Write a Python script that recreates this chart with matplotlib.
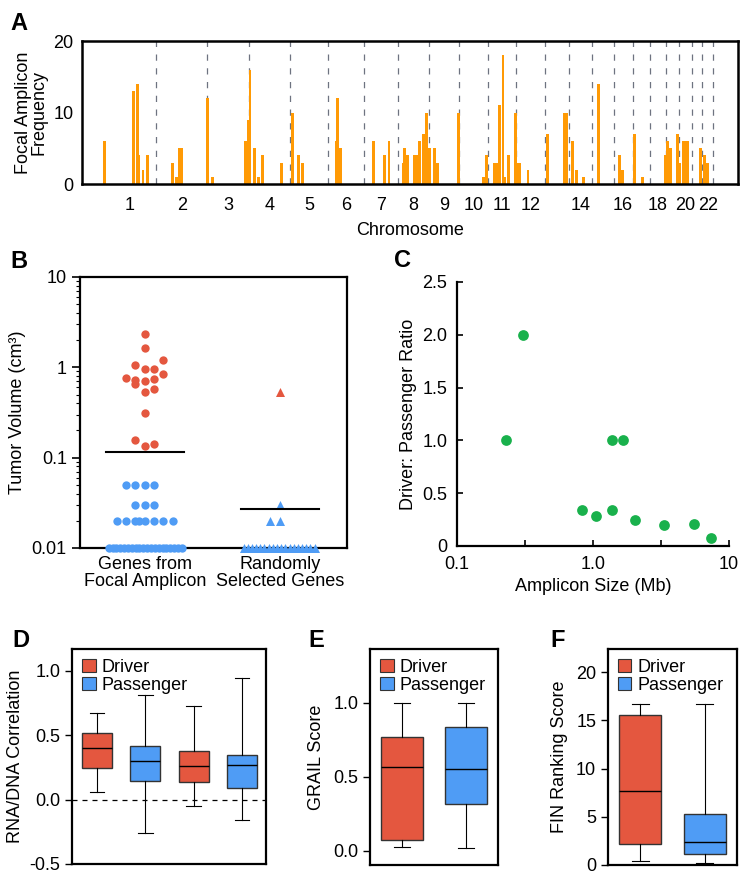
#!/usr/bin/python3

import matplotlib
matplotlib.use("Agg")
import matplotlib.pyplot as plt
from matplotlib.patches import Patch
from matplotlib.ticker import FixedLocator, NullFormatter
import numpy as np

plt.rcParams['font.family'] = ['Liberation Sans', 'DejaVu Sans']
plt.rcParams['font.size'] = 13

ORANGE = "#FF9A05"
RED = "#E4573F"
BLUE = "#4F9CF5"
GREEN = "#19B14C"
EDGE = "#333333"

# ---- panel A: focal amplicon frequency along the genome (hg19, Mb) ----
chrom_len = [249, 243, 198, 191, 181, 171, 159, 146, 141, 136, 135, 134,
             115, 107, 103, 90, 81, 78, 59, 63, 48, 51]
chrom_shown = [1, 2, 3, 4, 5, 6, 7, 8, 9, 10, 11, 12, 14, 16, 18, 20, 22]
amp_pos = [8, 145, 160, 169, 188, 207, 329, 348, 362, 372, 494, 518,
           670, 684, 693, 712, 731, 754, 842, 894, 921, 940, 1099, 1108,
           1118, 1278, 1330, 1349, 1415, 1424, 1438, 1467, 1481, 1495,
           1514, 1528, 1538, 1566, 1580, 1675, 1797, 1807, 1849, 1858,
           1872, 1887, 1896, 1915, 1948, 1958, 1967, 2005, 2095, 2175,
           2189, 2217, 2232, 2265, 2336, 2435, 2449, 2506, 2544, 2652,
           2662, 2676, 2709, 2718, 2737, 2747, 2756, 2817, 2836, 2850]
amp_freq = [6, 13, 14, 4, 2, 4, 3, 1, 5, 5, 12, 1,
            6, 9, 16, 5, 1, 4, 3, 10, 4, 3, 6, 12,
            5, 6, 4, 6, 3, 5, 4, 4, 4, 6,
            7, 10, 5, 5, 3, 10, 1, 4, 3, 3,
            11, 18, 1, 4, 10, 3, 3, 2, 7, 10,
            10, 6, 2, 1, 14, 4, 2, 7, 1, 4,
            6, 5, 7, 3, 6, 6, 6, 5, 4, 3]

# ---- panel B: tumour volume per gene (cm3) ----
b_groups = ["Genes from\nFocal Amplicon", "Randomly\nSelected Genes"]
b_red_vals = [2.34, 1.64, 1.06, 1.2, 0.96, 0.96, 0.77, 0.72, 0.70, 0.75,
              0.84, 0.65, 0.53, 0.58, 0.31, 0.155, 0.134, 0.143]
b_red_slot = [0, 0, -1, 2, 0, 1, -2, -1, 0, 1, 2, -1, 0, 1, 0, -1, 0, 1]
b_blue_vals = [0.05, 0.05, 0.05, 0.05, 0.03, 0.03, 0.03,
               0.02, 0.02, 0.02, 0.02, 0.02, 0.02, 0.02, 0.02]
b_blue_slot = [-2, -1, 0, 1, -1, 0, 1, -3, -2, -1, -0.6, 0, 1, 2, 3]
rnd_red_vals = [0.53]
rnd_blue_vals = [0.03, 0.02, 0.02]
rnd_blue_slot = [0, -1, 0]
floor_value = 0.01
floor_counts = [20, 18]
b_means = [0.115, 0.027]

# ---- panel C: driver/passenger ratio vs amplicon size ----
amp_size = [0.229, 0.305, 1.37, 1.67, 0.835, 1.05, 1.37, 2.03, 3.31, 5.52, 7.43]
dp_ratio = [1.0, 2.0, 1.0, 1.0, 0.336, 0.286, 0.336, 0.248, 0.197, 0.212, 0.075]

# ---- panels D-F: box statistics (whislo, q1, med, q3, whishi) ----
d_stats = [(0.059, 0.243, 0.40, 0.52, 0.67),
           (-0.263, 0.146, 0.30, 0.42, 0.81),
           (-0.046, 0.136, 0.258, 0.376, 0.726),
           (-0.161, 0.09, 0.268, 0.345, 0.944)]
d_kind = ["Driver", "Passenger", "Driver", "Passenger"]
e_stats = [(0.023, 0.072, 0.568, 0.77, 1.0),
           (0.016, 0.315, 0.554, 0.838, 0.998)]
f_stats = [(0.42, 2.15, 7.68, 15.6, 16.64),
           (0.17, 1.14, 2.42, 5.26, 16.64)]
kinds = ["Driver", "Passenger"]


def box_frame(ax, lw=1.6):
    for s in ax.spines.values():
        s.set_linewidth(lw)


def panel_a(fig):
    ax = fig.add_axes([0.1096, 0.7911, 0.877, 0.1623])
    ends = np.cumsum(chrom_len)
    centers = ends - np.array(chrom_len) / 2
    for e in ends:
        ax.axvline(e, color="#6E7380", lw=0.9, ls=(0, (5, 6)), zorder=1)
    ax.bar(amp_pos, amp_freq, width=14, color=ORANGE, zorder=2)
    ax.set_xlim(-100, 2996)
    ax.set_ylim(0, 20)
    ax.set_yticks([0, 10, 20])
    ax.set_xticks([centers[c - 1] for c in chrom_shown])
    ax.set_xticklabels([str(c) for c in chrom_shown])
    ax.tick_params(axis="both", length=0)
    ax.tick_params(axis="x", pad=9)
    ax.tick_params(axis="y", pad=6)
    ax.set_xlabel("Chromosome", labelpad=6)
    ax.set_ylabel("Focal Amplicon\nFrequency", linespacing=0.95)
    box_frame(ax, 1.8)


def panel_b(fig):
    ax = fig.add_axes([0.107, 0.378, 0.357, 0.3076])
    step = 0.069
    ax.scatter([s * step for s in b_red_slot], b_red_vals, s=36,
               color=RED, lw=0, zorder=3, clip_on=False)
    ax.scatter([s * step for s in b_blue_slot], b_blue_vals, s=36,
               color=BLUE, lw=0, zorder=3)
    ax.scatter([1.0], rnd_red_vals, s=42, marker="^", color=RED, lw=0,
               zorder=3)
    ax.scatter([1 + s * step for s in rnd_blue_slot], rnd_blue_vals, s=42,
               marker="^", color=BLUE, lw=0, zorder=3)
    xs0 = np.linspace(-0.267, 0.274, floor_counts[0])
    ax.scatter(xs0, [floor_value] * len(xs0), s=36, color=BLUE, lw=0,
               zorder=3, clip_on=False)
    xs1 = np.linspace(0.733, 1.259, floor_counts[1])
    ax.scatter(xs1, [floor_value] * len(xs1), s=42, marker="^",
               color=BLUE, lw=0, zorder=3, clip_on=False)
    for i, m in enumerate(b_means):
        ax.plot([i - 0.285, i + 0.29], [m, m], color="black", lw=1.5,
                zorder=4)
    ax.set_yscale("log")
    ax.set_ylim(0.01, 10)
    ax.set_xlim(-0.48, 1.5)
    ax.set_yticks([0.01, 0.1, 1, 10])
    ax.set_yticklabels(["0.01", "0.1", "1", "10"])
    minors = [k * 10.0 ** d for d in range(-2, 1) for k in range(2, 10)]
    ax.yaxis.set_minor_locator(FixedLocator(minors))
    ax.yaxis.set_minor_formatter(NullFormatter())
    ax.tick_params(axis="y", which="major", length=6, width=1.2)
    ax.tick_params(axis="y", which="minor", length=3, width=0.8)
    ax.set_xticks([0, 1])
    ax.set_xticklabels(b_groups, linespacing=0.95)
    ax.tick_params(axis="x", length=0, pad=6)
    ax.set_ylabel("Tumor Volume (cm³)")
    box_frame(ax, 1.6)


def panel_c(fig):
    ax = fig.add_axes([0.611, 0.3803, 0.3636, 0.2997])
    ax.scatter(amp_size, dp_ratio, s=60, color=GREEN, lw=0, zorder=3,
               clip_on=False)
    ax.set_xscale("log")
    ax.set_xlim(0.1, 10)
    ax.set_ylim(0, 2.5)
    ax.set_xticks([0.1, 10 ** -0.5, 1, 10 ** 0.5, 10])
    ax.set_xticklabels(["0.1", "", "1.0", "", "10"])
    ax.xaxis.set_minor_locator(FixedLocator([]))
    ax.set_yticks([0, 0.5, 1.0, 1.5, 2.0, 2.5])
    ax.set_yticklabels(["0", "0.5", "1.0", "1.5", "2.0", "2.5"])
    ax.tick_params(axis="x", direction="in", length=4, width=1.2, pad=7)
    ax.tick_params(axis="y", direction="in", length=4, width=1.2, pad=7)
    ax.spines["top"].set_visible(False)
    ax.spines["right"].set_visible(False)
    ax.spines["left"].set_linewidth(1.6)
    ax.spines["bottom"].set_linewidth(1.6)
    ax.set_xlabel("Amplicon Size (Mb)", labelpad=4)
    ax.set_ylabel("Driver: Passenger Ratio")


def draw_boxes(ax, stats, kinds_list, width, cap):
    bs = []
    for st in stats:
        lo, q1, med, q3, hi = st
        bs.append({"whislo": lo, "q1": q1, "med": med, "q3": q3,
                   "whishi": hi, "fliers": []})
    parts = ax.bxp(bs, positions=range(1, len(bs) + 1), widths=width,
                   capwidths=cap, patch_artist=True, showfliers=False,
                   boxprops=dict(edgecolor=EDGE, linewidth=1.0),
                   medianprops=dict(color="black", linewidth=1.0),
                   whiskerprops=dict(color="black", linewidth=0.8),
                   capprops=dict(color="black", linewidth=0.8))
    for patch, k in zip(parts["boxes"], kinds_list):
        patch.set_facecolor(RED if k == "Driver" else BLUE)
    handles = [Patch(facecolor=RED, edgecolor=EDGE, lw=0.8),
               Patch(facecolor=BLUE, edgecolor=EDGE, lw=0.8)]
    ax.legend(handles, kinds, loc="upper left", frameon=False,
              handlelength=0.75, handleheight=0.75, handletextpad=0.35,
              labelspacing=0.05, borderaxespad=0.25,
              borderpad=0.3, fontsize=13)
    ax.set_xticks([])
    ax.tick_params(axis="y", length=5, width=1.0)
    box_frame(ax, 1.6)


def panels_def(fig):
    ax = fig.add_axes([0.0963, 0.0193, 0.2594, 0.244])
    ax.axhline(0, color="black", lw=0.9, ls=(0, (4, 4)), zorder=0)
    draw_boxes(ax, d_stats, d_kind, 0.62, 0.3)
    ax.set_xlim(0.48, 4.5)
    ax.set_ylim(-0.5, 1.17)
    ax.set_yticks([-0.5, 0.0, 0.5, 1.0])
    ax.set_yticklabels(["-0.5", "0.0", "0.5", "1.0"])
    ax.set_ylabel("RNA/DNA Correlation", labelpad=4)

    ax = fig.add_axes([0.4947, 0.0182, 0.1711, 0.2452])
    draw_boxes(ax, e_stats, kinds, 0.65, 0.26)
    ax.set_xlim(0.5, 2.5)
    ax.set_ylim(-0.097, 1.363)
    ax.set_yticks([0.0, 0.5, 1.0])
    ax.set_yticklabels(["0.0", "0.5", "1.0"])
    ax.set_ylabel("GRAIL Score", labelpad=6)

    ax = fig.add_axes([0.8128, 0.0182, 0.1725, 0.2452])
    draw_boxes(ax, f_stats, kinds, 0.65, 0.26)
    ax.set_xlim(0.5, 2.5)
    ax.set_ylim(0, 22.4)
    ax.set_yticks([0, 5, 10, 15, 20])
    ax.set_ylabel("FIN Ranking Score", labelpad=6)


def main():
    fig = plt.figure(figsize=(7.48, 8.81), dpi=100)
    panel_a(fig)
    panel_b(fig)
    panel_c(fig)
    panels_def(fig)
    letters = [("A", 10, 30), ("B", 10, 268), ("C", 394, 267),
               ("D", 12, 647), ("E", 308, 647), ("F", 550, 647)]
    for t, x, y in letters:
        fig.text(x / 748, 1 - y / 881, t, fontsize=17, fontweight="bold",
                 ha="left", va="baseline")
    fig.savefig("out.png", dpi=100)


if __name__ == "__main__":
    main()
